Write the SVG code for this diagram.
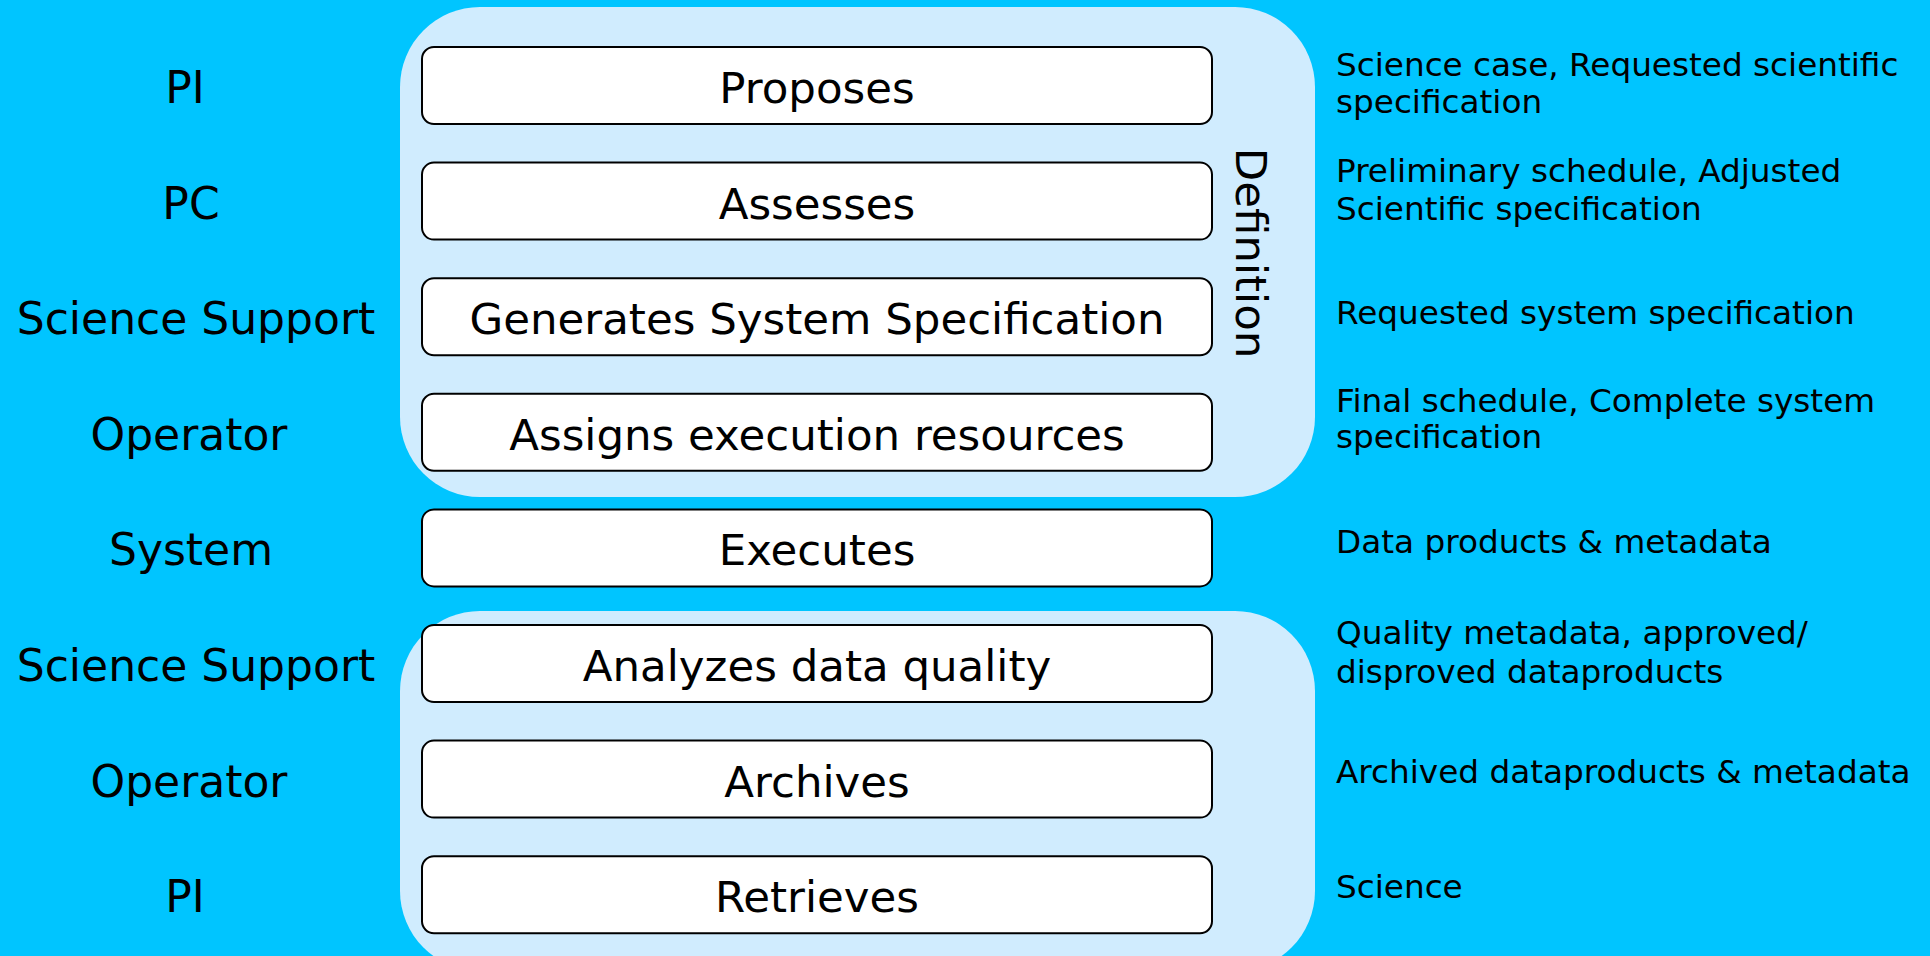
<svg xmlns="http://www.w3.org/2000/svg" width="1930" height="956" viewBox="0 0 1930 956">
<style>
.bg{fill:#00C5FF}
.grp{fill:#D0ECFE}
.box{fill:#FFFFFF;stroke:#000000;stroke-width:2}
text{font-family:"DejaVu Sans","Verdana",sans-serif;fill:#000000}
.bt{font-size:43.5px;text-anchor:middle}
.role{font-size:44px;text-anchor:middle}
.out{font-size:32.7px}
</style>
<rect class="bg" x="0" y="0" width="1930" height="956"/>
<g id="definition-group">
<rect class="grp" x="400" y="7" width="915" height="490" rx="80" ry="80"/>
<text class="bt" transform="translate(1236,253) rotate(90)">Definition</text>
</g>
<g id="analysis-group">
<rect class="grp" x="400" y="611" width="915" height="360" rx="80" ry="80"/>
</g>
<g id="connectors"></g>
<g id="roles">
<text class="role" x="185" y="103">PI</text>
<text class="role" x="191" y="219">PC</text>
<text class="role" x="196" y="334">Science Support</text>
<text class="role" x="189" y="450">Operator</text>
<text class="role" x="191" y="565">System</text>
<text class="role" x="196" y="681">Science Support</text>
<text class="role" x="189" y="797">Operator</text>
<text class="role" x="185" y="912">PI</text>
</g>
<g id="n1"><rect class="box" x="422" y="47" width="790" height="77" rx="12"/><text class="bt" x="817" y="103">Proposes</text></g>
<g id="n2"><rect class="box" x="422" y="162.6" width="790" height="77" rx="12"/><text class="bt" x="817" y="218.6">Assesses</text></g>
<g id="n3"><rect class="box" x="422" y="278.2" width="790" height="77" rx="12"/><text class="bt" x="817" y="334.2">Generates System Specification</text></g>
<g id="n4"><rect class="box" x="422" y="393.8" width="790" height="77" rx="12"/><text class="bt" x="817" y="449.8">Assigns execution resources</text></g>
<g id="n5"><rect class="box" x="422" y="509.4" width="790" height="77" rx="12"/><text class="bt" x="817" y="565.4">Executes</text></g>
<g id="n6"><rect class="box" x="422" y="625" width="790" height="77" rx="12"/><text class="bt" x="817" y="681">Analyzes data quality</text></g>
<g id="n7"><rect class="box" x="422" y="740.6" width="790" height="77" rx="12"/><text class="bt" x="817" y="796.6">Archives</text></g>
<g id="n8"><rect class="box" x="422" y="856.2" width="790" height="77" rx="12"/><text class="bt" x="817" y="912.2">Retrieves</text></g>
<g id="outputs">
<text class="out" x="1336" y="76">Science case, Requested scientific</text>
<text class="out" x="1336" y="113">specification</text>
<text class="out" x="1336" y="182">Preliminary schedule, Adjusted</text>
<text class="out" x="1336" y="220">Scientific specification</text>
<text class="out" x="1336" y="324">Requested system specification</text>
<text class="out" x="1336" y="412">Final schedule, Complete system</text>
<text class="out" x="1336" y="448">specification</text>
<text class="out" x="1336" y="553">Data products &amp; metadata</text>
<text class="out" x="1336" y="644">Quality metadata, approved/</text>
<text class="out" x="1336" y="683">disproved dataproducts</text>
<text class="out" x="1336" y="783">Archived dataproducts &amp; metadata</text>
<text class="out" x="1336" y="898">Science</text>
</g>
</svg>
